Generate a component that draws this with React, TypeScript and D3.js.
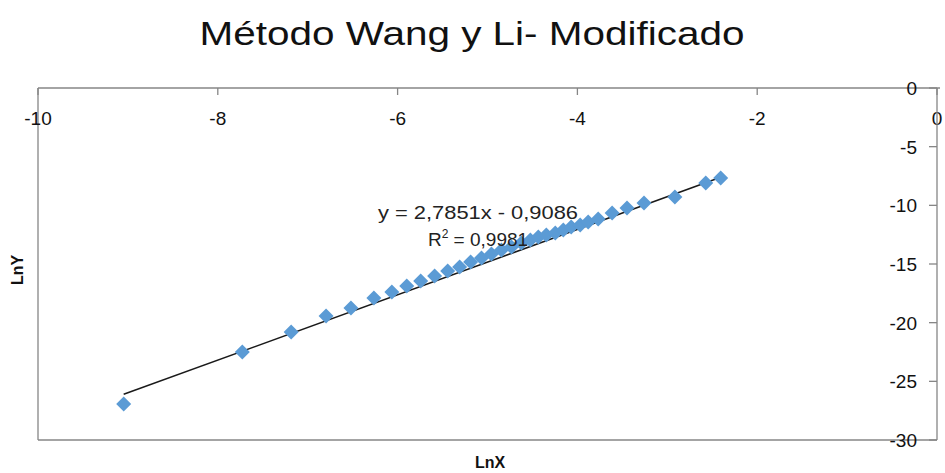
import React from "react";
import * as d3 from "d3";

const lnX = [
  -9.047, -7.727, -7.184, -6.796, -6.519, -6.264, -6.064, -5.898, -5.743, -5.588,
  -5.443, -5.31, -5.188, -5.067, -4.956, -4.845, -4.734, -4.623, -4.523, -4.435,
  -4.346, -4.246, -4.157, -4.069, -3.969, -3.88, -3.769, -3.614, -3.448, -3.259,
  -2.916, -2.572, -2.406,
];
const lnY = [
  -26.94, -22.51, -20.8, -19.44, -18.76, -17.9, -17.39, -16.88, -16.45, -16.03,
  -15.6, -15.26, -14.83, -14.49, -14.15, -13.81, -13.55, -13.21, -12.96, -12.7,
  -12.53, -12.36, -12.11, -11.85, -11.68, -11.42, -11.17, -10.66, -10.23, -9.8,
  -9.29, -8.1, -7.67,
];
const trendCoef = [2.7851, -0.9086];
const xTicks = [-10, -8, -6, -4, -2, 0];
const yTicks = [0, -5, -10, -15, -20, -25, -30];
const title = "Método Wang y Li- Modificado";
const eqText = "y = 2,7851x - 0,9086";
const r2Value = "0,9981";

const W = 945;
const H = 473;
const L = 38;
const R = 937;
const T = 88;
const B = 440;

export default function App() {
  const x = d3.scaleLinear().domain([-10, 0]).range([L, R]);
  const y = d3.scaleLinear().domain([-30, 0]).range([B, T]);
  const axisColor = "#868686";
  const font = "'Liberation Sans', Arial, sans-serif";
  const x0 = d3.min(lnX) as number;
  const x1 = d3.max(lnX) as number;
  const trend = d3.line<number>()
    .x((d) => x(d))
    .y((d) => y(trendCoef[0] * d + trendCoef[1]))([x0, x1]);
  const diamond = "M0,-7.5L7.5,0L0,7.5L-7.5,0Z";
  return (
    <svg
      width={W}
      height={H}
      style={{ position: "absolute", left: 0, top: 0, display: "block", background: "#fff" }}
    >
      <text x={472} y={45} textAnchor="middle" fontFamily={font} fontSize={33} fill="#111"
        textLength={545} lengthAdjust="spacingAndGlyphs">
        {title}
      </text>
      {/* plot border */}
      <line x1={L} y1={T} x2={L} y2={B} stroke={axisColor} strokeWidth={1.3} />
      <line x1={L} y1={B} x2={R} y2={B} stroke={axisColor} strokeWidth={1.3} />
      {/* x axis at y=0 */}
      <line x1={L} y1={y(0)} x2={R + 3} y2={y(0)} stroke={axisColor} strokeWidth={1.3} />
      {xTicks.map((t) => (
        <g key={"xt" + t}>
          <line x1={x(t)} x2={x(t)} y1={y(0)} y2={y(0) + 7} stroke={axisColor} strokeWidth={1.3} />
          <text x={x(t)} y={125} textAnchor="middle" fontFamily={font} fontSize={19} fill="#111">
            {t}
          </text>
        </g>
      ))}
      {/* y axis at x=0 */}
      <line x1={x(0)} y1={T} x2={x(0)} y2={B} stroke={axisColor} strokeWidth={1.3} />
      {yTicks.map((t) => (
        <g key={"yt" + t}>
          <line x1={x(0) - 8} x2={x(0)} y1={y(t)} y2={y(t)} stroke={axisColor} strokeWidth={1.3} />
          <text x={x(0) - 20} y={y(t) + 7} textAnchor="end" fontFamily={font} fontSize={19} fill="#111">
            {t}
          </text>
        </g>
      ))}
      {/* trendline */}
      <path d={trend || ""} stroke="#1a1a1a" strokeWidth={1.5} fill="none" />
      {lnX.map((v, i) => (
        <path key={"p" + i} d={diamond} transform={`translate(${x(v)},${y(lnY[i])})`} fill="#5B9BD5" />
      ))}
      <text x={478} y={219} textAnchor="middle" fontFamily={font} fontSize={19} fill="#222"
        textLength={200} lengthAdjust="spacingAndGlyphs">
        {eqText}
      </text>
      <text x={478} y={246} textAnchor="middle" fontFamily={font} fontSize={19} fill="#222">
        R
        <tspan fontSize={12} dy={-8}>2</tspan>
        <tspan dy={8}>{" = " + r2Value}</tspan>
      </text>
      <text x={490} y={468} textAnchor="middle" fontFamily={font} fontSize={16} fontWeight="bold" fill="#111">
        LnX
      </text>
      <text transform="translate(23,270) rotate(-90)" textAnchor="middle" fontFamily={font} fontSize={16}
        fontWeight="bold" fill="#111">
        LnY
      </text>
    </svg>
  );
}
